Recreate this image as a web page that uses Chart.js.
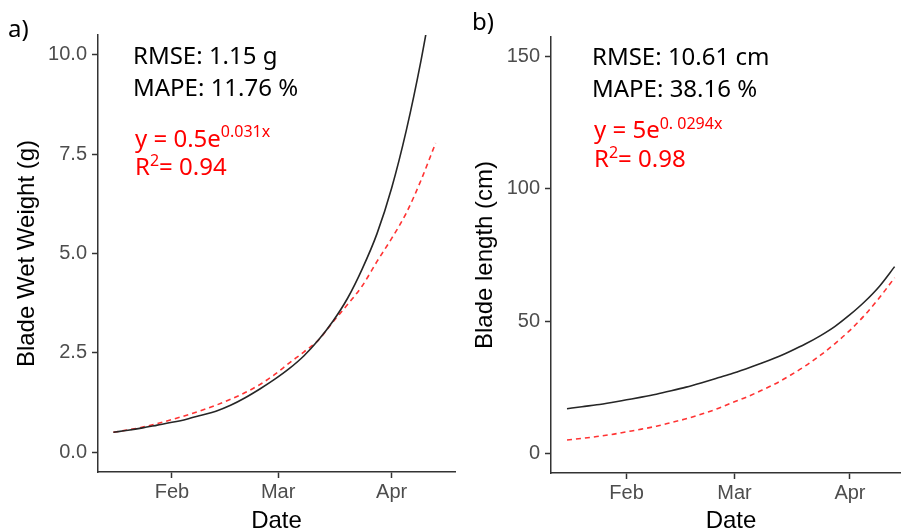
<!DOCTYPE html>
<html>
<head>
<meta charset="utf-8">
<script src="https://cdn.jsdelivr.net/npm/chart.js@4.4.1/dist/chart.umd.min.js"></script>
<style>
  html, body { margin: 0; padding: 0; background: #fff; overflow: hidden; width: 901px; height: 530px; }
  .panel { position: absolute; top: 0; overflow: hidden; }
  #wrapA { left: 0; width: 460px; height: 530px; }
  #wrapB { left: 450px; width: 451px; height: 530px; }
</style>
</head>
<body>
<div class="panel" id="wrapA"><canvas id="chartA" width="460" height="540"></canvas></div>
<div class="panel" id="wrapB"><canvas id="chartB" width="466" height="540"></canvas></div>
<script>
// sample dates as day of year (Jan 16 .. Apr 13)
var days = [16, 20, 24, 28, 32, 36, 40, 44, 48, 52, 56, 60, 64, 68, 72, 76, 80, 84, 88, 92, 96, 100, 104];

// a) blade wet weight (g): simulated (black) and exponential fit (red)
var weightSim = [0.50, 0.55, 0.61, 0.68, 0.75, 0.83, 0.93, 1.03, 1.18, 1.37, 1.59, 1.83, 2.10, 2.42, 2.82, 3.30, 3.88, 4.62, 5.50, 6.65, 8.10, 9.85, 11.90];
var weightFit = [0.50, 0.56, 0.63, 0.72, 0.82, 0.93, 1.05, 1.18, 1.33, 1.50, 1.70, 1.95, 2.24, 2.52, 2.82, 3.28, 3.72, 4.19, 4.80, 5.38, 6.02, 6.84, 7.78];

// b) blade length (cm)
var lengthSim = [16.8, 17.6, 18.3, 19.2, 20.2, 21.2, 22.3, 23.6, 25.0, 26.6, 28.3, 30.0, 31.9, 33.9, 36.1, 38.6, 41.3, 44.4, 48.0, 52.4, 57.4, 63.3, 70.6];
var lengthFit = [5.0, 5.6, 6.3, 7.1, 8.1, 9.1, 10.2, 11.6, 13.0, 14.7, 16.6, 18.9, 21.1, 23.6, 26.3, 29.5, 33.0, 37.0, 41.5, 46.5, 52.3, 59.0, 66.4];

// axis ticks
var monthTicks = [32, 61, 92];
var monthLabels = ['Feb', 'Mar', 'Apr'];
var weightTicks = [0, 2.5, 5, 7.5, 10];
var lengthTicks = [0, 50, 100, 150];

var axisFont = 'Liberation Sans, Arial, sans-serif';
var noteFont = '"Noto Sans", sans-serif';

function toPoints(vals) {
    return days.map(function(d, i) { return {x: d, y: vals[i]}; });
}

// FUNCTION: plugin that writes the panel letter and the stats / equation text
function notesPlugin(notes) {
    return {
        id: 'notes',
        afterDraw: function(chart) {
            var ctx = chart.ctx;
            ctx.save();
            ctx.textAlign = 'left';
            ctx.textBaseline = 'alphabetic';
            notes.forEach(function(line) {
                var x = line.x;
                line.parts.forEach(function(p) {
                    ctx.font = p.size + 'px ' + noteFont;
                    ctx.fillStyle = line.color;
                    ctx.fillText(p.text, x, line.y - (p.rise || 0));
                    x += ctx.measureText(p.text).width;
                });
            });
            ctx.restore();
        }
    };
}

function makeChart(id, sim, fit, cfg) {
    var ctx = document.getElementById(id).getContext('2d');
    return new Chart(ctx, {
        type: 'line',
        data: {
            datasets: [{
                data: toPoints(sim),
                borderColor: '#262626',
                borderWidth: 1.6,
                pointRadius: 0,
                cubicInterpolationMode: 'monotone'
            }, {
                data: toPoints(fit),
                borderColor: '#FF3333',
                borderWidth: 1.6,
                borderDash: [5, 4],
                pointRadius: 0,
                cubicInterpolationMode: 'monotone'
            }]
        },
        options: {
            responsive: false,
            animation: false,
            devicePixelRatio: 1,
            layout: { padding: { left: 0, top: cfg.top, right: 5, bottom: 0 } },
            plugins: { legend: { display: false }, tooltip: { enabled: false } },
            scales: {
                x: {
                    type: 'linear',
                    min: cfg.xMin,
                    max: cfg.xMax,
                    afterBuildTicks: function(s) { s.ticks = monthTicks.map(function(v) { return {value: v}; }); },
                    afterFit: function(s) { s.height = cfg.xHeight; },
                    ticks: {
                        autoSkip: false, maxRotation: 0, padding: 2,
                        color: '#4D4D4D', font: { family: axisFont, size: 20 },
                        callback: function(v) { return monthLabels[monthTicks.indexOf(v)]; }
                    },
                    grid: { drawOnChartArea: false, drawTicks: true, tickLength: 6, tickColor: '#333', tickWidth: 1.5 },
                    border: { display: true, color: '#333', width: 1.5 },
                    title: { display: true, text: 'Date', color: '#000', font: { family: axisFont, size: 24 }, padding: { top: 0, bottom: 4 } }
                },
                y: {
                    min: cfg.yMin,
                    max: cfg.yMax,
                    afterBuildTicks: function(s) { s.ticks = cfg.yTicks.map(function(v) { return {value: v}; }); },
                    afterFit: function(s) { s.width = cfg.yWidth; },
                    ticks: {
                        padding: 5, color: '#4D4D4D', font: { family: axisFont, size: 20 },
                        callback: function(v) { return cfg.yFormat(v); }
                    },
                    grid: { drawOnChartArea: false, drawTicks: true, tickLength: 6, tickColor: '#333', tickWidth: 1.5 },
                    border: { display: true, color: '#333', width: 1.5 },
                    title: { display: true, text: cfg.yTitle, color: '#000', font: { family: axisFont, size: 24 }, padding: { top: cfg.titlePad, bottom: 0 } }
                }
            }
        },
        plugins: [notesPlugin(cfg.notes)]
    });
}

makeChart('chartA', weightSim, weightFit, {
    top: 35, xHeight: 68, yWidth: 98, titlePad: 13,
    xMin: 11.8, xMax: 109.3, yMin: -0.5, yMax: 10.5,
    yTicks: weightTicks, yFormat: function(v) { return v.toFixed(1); },
    yTitle: 'Blade Wet Weight (g)',
    notes: [
        { x: 8, y: 37, color: '#000', parts: [{text: 'a)', size: 24}] },
        { x: 133, y: 64, color: '#000', parts: [{text: 'RMSE: 1.15 g', size: 24}] },
        { x: 133, y: 96, color: '#000', parts: [{text: 'MAPE: 11.76 %', size: 24}] },
        { x: 135, y: 147, color: '#FF0000', parts: [{text: 'y = 0.5e', size: 24}, {text: '0.031x', size: 16, rise: 10}] },
        { x: 135, y: 175, color: '#FF0000', parts: [{text: 'R', size: 24}, {text: '2', size: 16, rise: 9}, {text: '= 0.94', size: 24}] }
    ]
});

makeChart('chartB', lengthSim, lengthFit, {
    top: 37, xHeight: 67, yWidth: 101, titlePad: 21,
    xMin: 11.7, xMax: 108.4, yMin: -7.5, yMax: 157.5,
    yTicks: lengthTicks, yFormat: function(v) { return String(v); },
    yTitle: 'Blade length (cm)',
    notes: [
        { x: 22, y: 30, color: '#000', parts: [{text: 'b)', size: 24}] },
        { x: 142, y: 65, color: '#000', parts: [{text: 'RMSE: 10.61 cm', size: 24}] },
        { x: 142, y: 97, color: '#000', parts: [{text: 'MAPE: 38.16 %', size: 24}] },
        { x: 144, y: 138, color: '#FF0000', parts: [{text: 'y = 5e', size: 24}, {text: '0. 0294x', size: 16, rise: 9}] },
        { x: 144, y: 167, color: '#FF0000', parts: [{text: 'R', size: 24}, {text: '2', size: 16, rise: 9}, {text: '= 0.98', size: 24}] }
    ]
});
</script>
</body>
</html>
